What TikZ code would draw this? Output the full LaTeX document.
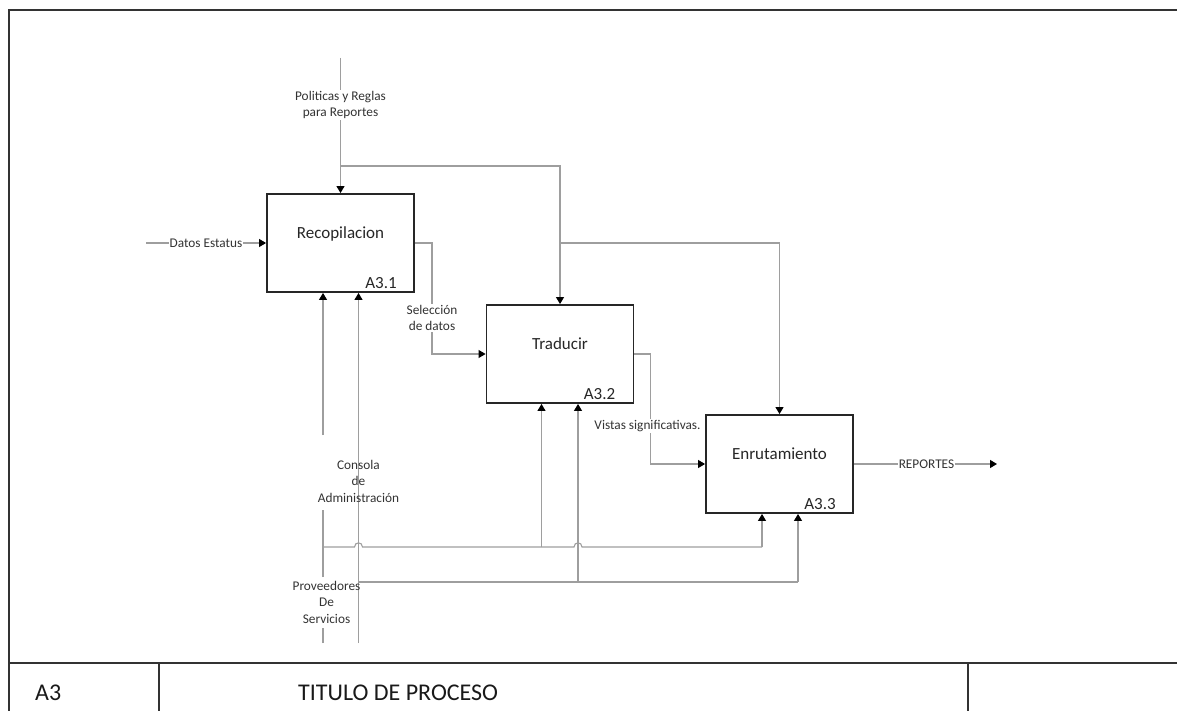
\documentclass[tikz,border=0pt]{standalone}
\usepackage{fontspec}
\setmainfont{Carlito}
\usetikzlibrary{arrows.meta}
\begin{document}
\begin{tikzpicture}[x=1pt,y=-1pt,
  frameline/.style={draw=black!80, line width=2.6pt},
  activity/.style={draw=black!85, line width=1.9pt, minimum width=147pt, minimum height=98pt, inner sep=0pt},
  boxtitle/.style={font=\fontsize{17}{20}\selectfont, text=black!85, inner sep=0pt},
  boxnum/.style={font=\fontsize{17}{20}\selectfont, text=black!85, anchor=south east, inner sep=0pt},
  conn/.style={draw=black!38, line width=1.1pt},
  tip/.style={-{Triangle[length=7pt,width=8pt,color=black]}},
  lbl/.style={font=\fontsize{13.3}{16.5}\selectfont, text=black!80, align=center, inner sep=1pt},
  blank/.style={fill=white},
  titletext/.style={font=\fontsize{24}{28}\selectfont, text=black!90, anchor=base west, inner sep=0pt}
]
\useasboundingbox (0,0) rectangle (1177,711);

% sheet frame and title strip
\draw[frameline] (9,711) -- (9,10) -- (1180,10);
\draw[frameline] (9,663) -- (1180,663);
\draw[frameline] (159,663) -- (159,711);
\draw[frameline] (968,663) -- (968,711);
\node[titletext] (sheetid) at (35,700.5) {A3};
\node[titletext] (sheettitle) at (298,700.5) {TITULO DE PROCESO};

% activities
\node[activity] (rec) at (340.5,243) {};
\node[boxtitle] (recT) at (340.5,234) {Recopilacion};
\node[boxnum] (recN) at ([xshift=-18pt,yshift=4pt]rec.south east) {A3.1};

\node[activity] (tra) at (560,354) {};
\node[boxtitle] (traT) at (560,344) {Traducir};
\node[boxnum] (traN) at ([xshift=-19pt,yshift=4pt]tra.south east) {A3.2};

\node[activity] (enr) at (779.5,464) {};
\node[boxtitle] (enrT) at (779.5,454) {Enrutamiento};
\node[boxnum] (enrN) at ([xshift=-18pt,yshift=4pt]enr.south east) {A3.3};

% controls
\coordinate (polIn) at (340.5,58);
\coordinate (c1) at (340.5,166);
\coordinate (c2) at (560,243);
\draw[conn,tip] (polIn) -- (rec.north);
\node[lbl,blank] (pol) at (340.5,105) {Politicas y Reglas\\para Reportes};
\draw[conn,tip] (c1) -- (560,166) -- (tra.north);
\draw[conn,tip] (c2) -| (enr.north);

% input
\coordinate (datIn) at (146,243);
\draw[conn,tip] (datIn) -- (rec.west) node[lbl,blank,pos=0.5] (dat) {Datos Estatus};

% outputs
\draw[conn,tip] (rec.east) -- (432,243) -- (432,354) -- (tra.west);
\node[lbl,blank] (sel) at (432,318) {Selección\\de datos};
\draw[conn,tip] (tra.east) -- (650.5,354) -- (650.5,464) -- (enr.west);
\node[lbl,blank] (vis) at (647.5,426) {Vistas significativas.};
\coordinate (repOut) at (997,464);
\draw[conn,tip] (enr.east) -- (repOut) node[lbl,blank,pos=0.507] (rep) {REPORTES};

% mechanisms
\coordinate (provIn) at (323,643);
\coordinate (conIn) at (358.5,643);
\draw[conn] (provIn) -- (323,628);
\draw[conn] (323,577) -- (323,510);
\draw[conn,tip] (323,435) -- (provIn |- rec.south);
\draw[conn,tip] (conIn) -- (conIn |- rec.south);
\node[lbl] (prov) at (326.5,602) {Proveedores\\De\\Servicios};
\node[lbl] (con) at (358.5,481) {Consola\\de\\Administración};

\draw[conn] (323,547) -- (354.5,547) .. controls (354.5,541.5) and (362.5,541.5) .. (362.5,547)
  -- (574,547) .. controls (574,541.5) and (582,541.5) .. (582,547) -- (762,547);
\draw[conn] (358.5,582) -- (798,582);
\draw[conn,tip] (541.5,547) -- ([xshift=-18.5pt]tra.south);
\draw[conn,tip] (578,582) -- ([xshift=18pt]tra.south);
\draw[conn,tip] (762,547) -- ([xshift=-17.5pt]enr.south);
\draw[conn,tip] (798,582) -- ([xshift=18.5pt]enr.south);
\end{tikzpicture}
\end{document}
